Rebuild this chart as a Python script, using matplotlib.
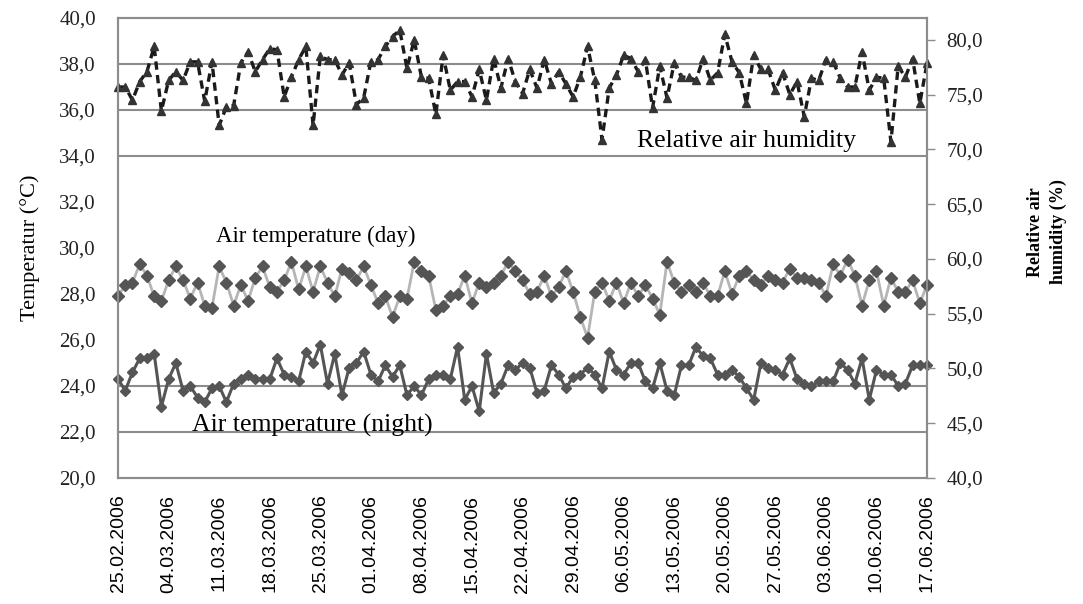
import numpy as np
import matplotlib
matplotlib.use("Agg")
import matplotlib.pyplot as plt
from matplotlib.ticker import FuncFormatter

plt.rcParams['font.family'] = ['Liberation Serif', 'DejaVu Serif']

# daily values, 25.02.2006 .. 17.06.2006
temp_day = [27.9, 28.4, 28.5, 29.3, 28.8, 27.9, 27.7, 28.6, 29.2, 28.6,
            27.8, 28.5, 27.5, 27.4, 29.2, 28.5, 27.5, 28.4, 27.7, 28.7,
            29.2, 28.3, 28.1, 28.6, 29.4, 28.2, 29.2, 28.1, 29.2, 28.5,
            27.9, 29.1, 28.9, 28.6, 29.2, 28.4, 27.6, 27.9, 27.0,
            27.9, 27.8, 29.4, 29.0, 28.8, 27.3, 27.5, 27.9, 28.0, 28.8,
            27.6, 28.5, 28.3, 28.5, 28.8, 29.4, 29.0, 28.6, 28.0, 28.1,
            28.8, 27.9, 28.3, 29.0, 28.1, 27.0, 26.1, 28.1, 28.5, 27.7,
            28.5, 27.6, 28.5, 27.9, 28.4, 27.8, 27.1,
            29.4, 28.5, 28.1, 28.4, 28.1, 28.5, 27.9, 27.9, 29.0, 28.0,
            28.8, 29.0, 28.6, 28.4, 28.8, 28.6, 28.5, 29.1, 28.7, 28.7,
            28.6, 28.5, 27.9, 29.3, 28.8, 29.5, 28.8, 27.5, 28.6, 29.0,
            27.5, 28.7, 28.1, 28.1, 28.6, 27.6, 28.4]

temp_night = [24.3, 23.8, 24.6, 25.2, 25.2, 25.4, 23.1, 24.3, 25.0, 23.8,
              24.0, 23.5, 23.3, 23.9, 24.0, 23.3, 24.1, 24.3, 24.5, 24.3,
              24.3, 24.3, 25.2, 24.5, 24.4, 24.2, 25.5, 25.0, 25.8, 24.1,
              25.4, 23.6, 24.8, 25.0, 25.5, 24.5, 24.2, 24.9,
              24.4, 24.9, 23.6, 24.0, 23.6, 24.3, 24.5, 24.5, 24.3, 25.7,
              23.4, 24.0, 22.9, 25.4, 23.7, 24.1, 24.9, 24.7, 25.0, 24.8,
              23.7, 23.8, 24.9, 24.5, 23.9, 24.4, 24.5, 24.8, 24.5, 23.9,
              25.5, 24.7, 24.5, 25.0, 25.0, 24.2, 23.9, 25.0,
              23.8, 23.6, 24.9, 24.9, 25.7, 25.3, 25.2, 24.5, 24.5, 24.7,
              24.4, 23.9, 23.4, 25.0, 24.8, 24.7, 24.5, 25.2, 24.3, 24.1,
              24.0, 24.2, 24.2, 24.2, 25.0, 24.7, 24.1, 25.2, 23.4, 24.7,
              24.5, 24.5, 24.0, 24.1, 24.9, 24.9, 24.9]

humidity = [75.7, 75.7, 74.5, 76.2, 77.1, 79.4, 73.5, 76.3, 77.1, 76.3,
            78.0, 78.0, 74.4, 78.0, 72.2, 73.9, 74.0, 77.9, 78.9, 77.1,
            78.2, 79.2, 79.1, 74.8, 76.6, 78.2, 79.4, 72.2, 78.5, 78.2,
            78.2, 76.8, 77.9, 74.1, 74.7, 78.0, 78.2, 79.4, 80.3,
            80.9, 77.4, 80.0, 76.6, 76.5, 73.2, 78.6, 75.4, 76.2, 76.2,
            74.8, 77.3, 74.5, 78.3, 75.6, 78.3, 76.2, 75.1, 77.3, 75.6,
            78.2, 76.0, 77.1, 76.0, 74.8, 76.6, 79.4, 76.3, 70.9, 75.6,
            76.8, 78.6, 78.3, 77.1, 78.2, 73.8,
            77.6, 74.7, 77.9, 76.6, 76.6, 76.3, 78.3, 76.3, 77.0, 80.5,
            78.0, 77.0, 74.2, 78.6, 77.3, 77.3, 75.4, 77.0, 75.0, 76.2,
            73.0, 76.5, 76.3, 78.2, 78.0, 76.5, 75.7, 75.7, 78.9, 75.4,
            76.6, 76.5, 70.7, 77.6, 76.6, 78.3, 74.2, 77.9]

date_labels = ["25.02.2006", "04.03.2006", "11.03.2006", "18.03.2006",
               "25.03.2006", "01.04.2006", "08.04.2006", "15.04.2006",
               "22.04.2006", "29.04.2006", "06.05.2006", "13.05.2006",
               "20.05.2006", "27.05.2006", "03.06.2006", "10.06.2006",
               "17.06.2006"]
grid_levels = [22, 24, 34, 36, 38]

days = np.arange(len(temp_day))

fig = plt.figure(figsize=(10.83, 6.04), dpi=100)
ax = fig.add_axes([0.109, 0.2086, 0.747, 0.7616])
ax2 = ax.twinx()

for g in grid_levels:
    ax.axhline(g, color="#8c8c8c", lw=1.5, zorder=1)

ax.plot(days, temp_day, color="#b5b5b5", lw=2, marker="D", ms=6,
        mfc="#555555", mec="#555555", clip_on=False, zorder=3)
ax.plot(days, temp_night, color="#555555", lw=2.2, marker="D", ms=5.5,
        mfc="#555555", mec="#555555", clip_on=False, zorder=3)
ax2.plot(days, humidity, color="#1a1a1a", lw=2.4, ls=(0, (2.5, 1.6)),
         marker="^", ms=6, mfc="#333333", mec="#333333", clip_on=False)

ax.set_xlim(0, days[-1])
ax.set_ylim(20, 40)
ax2.set_ylim(40, 82)
ax.set_yticks(np.arange(20, 41, 2))
ax2.set_yticks(np.arange(40, 81, 5))
comma = FuncFormatter(lambda v, p: f"{v:.1f}".replace(".", ","))
ax.yaxis.set_major_formatter(comma)
ax2.yaxis.set_major_formatter(comma)

ax.set_xticks(days[::7])
ax.set_xticklabels(date_labels, rotation=90, family="Liberation Sans",
                   fontsize=14)
ax.tick_params(axis="x", length=0, pad=12)
ax.tick_params(axis="y", length=0, pad=16, labelsize=15, labelcolor="#222222")
ax2.tick_params(axis="y", length=6, width=1, color="#8c8c8c", pad=8,
                labelsize=15, labelcolor="#222222")

for a in (ax, ax2):
    for s in a.spines.values():
        s.set_color("#8c8c8c")
        s.set_linewidth(1.5)

ax.set_ylabel("Temperatur (°C)", fontsize=16)
ax.yaxis.set_label_coords(-0.096, 0.5)
ax2.set_ylabel("Relative air\nhumidity (%)", fontsize=13, fontweight="bold",
               linespacing=1.4)
ax2.yaxis.set_label_coords(1.124, 0.535)

ax.text(13.5, 30.5, "Air temperature (day)", fontsize=16.5, va="center")
ax.text(10.3, 22.3, "Air temperature (night)", fontsize=18.5, va="center")
ax.text(71.8, 34.65, "Relative air humidity", fontsize=18.5, va="center")

fig.savefig("out.png", dpi=100)
